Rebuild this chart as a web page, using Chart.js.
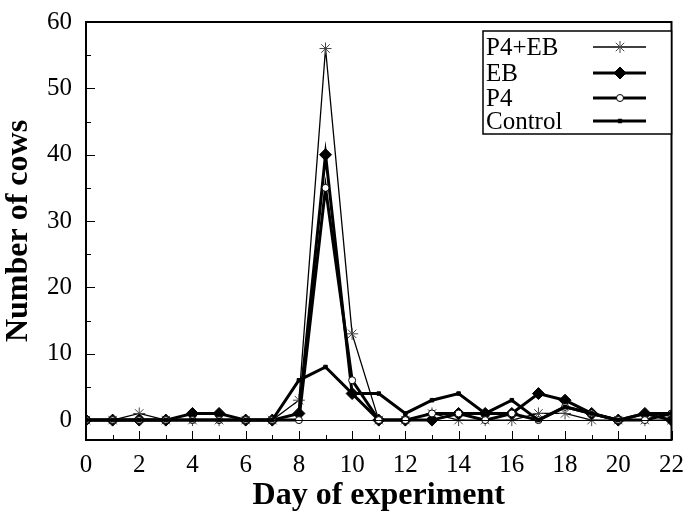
<!DOCTYPE html>
<html>
<head>
<meta charset="utf-8">
<script src="https://cdn.jsdelivr.net/npm/chart.js@4.4.0/dist/chart.umd.min.js"></script>
<style>
  html, body { margin: 0; padding: 0; background: #fff; }
  #wrap { width: 686px; height: 512px; position: relative; }
</style>
</head>
<body>
<div id="wrap"><canvas id="cowChart" width="686" height="512"></canvas></div>
<script>
// Days on the x axis
const days = [0, 1, 2, 3, 4, 5, 6, 7, 8, 9, 10, 11, 12, 13, 14, 15, 16, 17, 18, 19, 20, 21, 22];

// Number of cows per group
const p4ebCows =    [0, 0, 1, 0, 0, 0, 0, 0, 3, 56, 13, 0, 0, 1, 0, 0, 0, 1, 1, 0, 0, 0, 0];
const ebCows =      [0, 0, 0, 0, 1, 1, 0, 0, 1, 40, 4, 0, 0, 0, 1, 1, 1, 4, 3, 1, 0, 1, 0];
const p4Cows =      [0, 0, 0, 0, 0, 0, 0, 0, 0, 35, 6, 0, 0, 1, 1, 0, 1, 0, 2, 1, 0, 0, 1];
const controlCows = [0, 0, 0, 0, 0, 0, 0, 0, 6, 8, 4, 4, 1, 3, 4, 1, 3, 0, 2, 1, 0, 1, 1];

const yTicks = [0, 10, 20, 30, 40, 50, 60];
const xTickLabels = [0, 2, 4, 6, 8, 10, 12, 14, 16, 18, 20, 22];

const legendLabels = ["P4+EB", "EB", "P4", "Control"];

const serif = "'Liberation Serif', 'DejaVu Serif', serif";

const pairs = arr => arr.map((v, i) => ({ x: days[i], y: v }));

// inward ticks, zero line, box and legend
const framePlugin = {
  id: "frame",
  afterDraw(chart) {
    const { ctx, chartArea: a, scales: { x, y } } = chart;
    ctx.save();
    ctx.strokeStyle = "#000";
    ctx.lineWidth = 1;

    // zero line
    const y0 = Math.round(y.getPixelForValue(0)) + 0.5;
    ctx.beginPath();
    ctx.moveTo(a.left, y0);
    ctx.lineTo(a.right, y0);
    ctx.stroke();

    // y ticks (major every 10, minor every 5)
    for (let v = 0; v <= 60; v += 5) {
      const py = Math.round(y.getPixelForValue(v)) + 0.5;
      const len = v % 10 === 0 ? 9 : 5;
      ctx.beginPath();
      ctx.moveTo(a.left, py);
      ctx.lineTo(a.left + len, py);
      ctx.stroke();
    }
    // x ticks
    days.forEach(d => {
      const px = Math.round(x.getPixelForValue(d)) + 0.5;
      const len = d % 2 === 0 ? 9 : 5;
      ctx.beginPath();
      ctx.moveTo(px, a.bottom);
      ctx.lineTo(px, a.bottom - len);
      ctx.stroke();
    });

    // frame
    ctx.lineWidth = 2;
    ctx.strokeRect(a.left, a.top, a.right - a.left, a.bottom - a.top);

    // legend
    const lx = 483, ly = 31, lw = a.right - 483, lh = 103;
    ctx.fillStyle = "#fff";
    ctx.fillRect(lx, ly, lw, lh);
    ctx.lineWidth = 1.5;
    ctx.strokeRect(lx, ly, lw, lh);
    ctx.font = "25px " + serif;
    ctx.textBaseline = "middle";
    const rows = [47, 73, 98, 121];
    chart.data.datasets.slice().reverse().forEach((ds, i) => {
      const ry = rows[i];
      ctx.fillStyle = "#000";
      ctx.textAlign = "left";
      ctx.fillText(legendLabels[i], lx + 3, ry + 1);
      ctx.strokeStyle = "#000";
      ctx.lineWidth = ds.borderWidth;
      ctx.beginPath();
      ctx.moveTo(593, ry);
      ctx.lineTo(646, ry);
      ctx.stroke();
      ctx.fillStyle = ds.pointBackgroundColor;
      ctx.strokeStyle = ds.pointBorderColor;
      ctx.lineWidth = ds.pointBorderWidth || 1;
      Chart.helpers.drawPoint(ctx, {
        pointStyle: ds.pointStyle,
        radius: ds.pointRadius,
        borderWidth: ds.pointBorderWidth || 1,
        rotation: 0
      }, 620, ry);
    });
    ctx.restore();
  }
};

const ctx = document.getElementById("cowChart").getContext("2d");

const cowChart = new Chart(ctx, {
  type: "line",
  data: {
    datasets: [
      {
        label: "Control",
        data: pairs(controlCows),
        borderColor: "#000",
        borderWidth: 3,
        pointStyle: "rect",
        pointRadius: 2.5,
        pointBackgroundColor: "#000",
        pointBorderColor: "#000",
        pointBorderWidth: 1
      },
      {
        label: "P4",
        data: pairs(p4Cows),
        borderColor: "#000",
        borderWidth: 3,
        pointStyle: "circle",
        pointRadius: 3.5,
        pointBackgroundColor: "#fff",
        pointBorderColor: "#000",
        pointBorderWidth: 1
      },
      {
        label: "EB",
        data: pairs(ebCows),
        borderColor: "#000",
        borderWidth: 3,
        pointStyle: "rectRot",
        pointRadius: 6,
        pointBackgroundColor: "#000",
        pointBorderColor: "#000",
        pointBorderWidth: 1
      },
      {
        label: "P4+EB",
        data: pairs(p4ebCows),
        borderColor: "#000",
        borderWidth: 1.3,
        pointStyle: "star",
        pointRadius: 6,
        pointBackgroundColor: "#000",
        pointBorderColor: "#444",
        pointBorderWidth: 1
      }
    ]
  },
  options: {
    responsive: false,
    animation: false,
    devicePixelRatio: 1,
    layout: { padding: { left: 0, right: 14, top: 22, bottom: 0 } },
    plugins: {
      legend: { display: false },
      tooltip: { enabled: false }
    },
    elements: { line: { tension: 0 } },
    scales: {
      x: {
        type: "linear",
        min: 0,
        max: 22,
        afterFit: s => { s.height = 72; },
        afterBuildTicks: s => { s.ticks = xTickLabels.map(v => ({ value: v })); },
        grid: { display: false },
        border: { display: false },
        ticks: {
          color: "#000",
          font: { family: serif, size: 25 },
          padding: 2,
          maxRotation: 0,
          autoSkip: false
        },
        title: {
          display: true,
          text: "Day of experiment",
          color: "#000",
          font: { family: serif, size: 32, weight: "bold", lineHeight: 1 },
          padding: { top: 0, bottom: 0 }
        }
      },
      y: {
        min: -3,
        max: 60,
        afterFit: s => { s.width = 86; },
        afterBuildTicks: s => { s.ticks = yTicks.map(v => ({ value: v })); },
        grid: { display: false },
        border: { display: false },
        ticks: {
          color: "#000",
          font: { family: serif, size: 25 },
          padding: 6
        },
        title: {
          display: true,
          text: "Number of cows",
          color: "#000",
          font: { family: serif, size: 32, weight: "bold" },
          padding: { top: 0, bottom: 0 }
        }
      }
    }
  },
  plugins: [framePlugin]
});
</script>
</body>
</html>
